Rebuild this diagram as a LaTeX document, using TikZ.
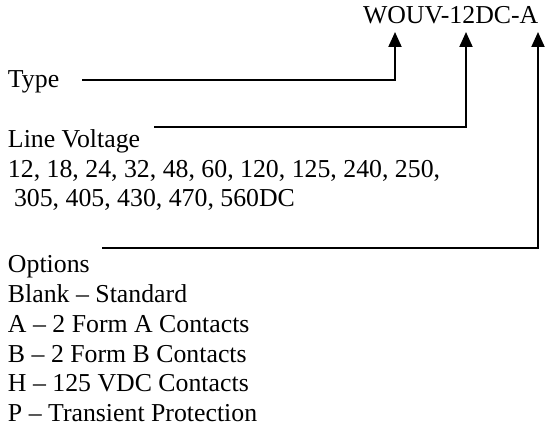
\documentclass[tikz,border=0pt]{standalone}
\usepackage{fontspec}
\setmainfont{Liberation Serif}
\usetikzlibrary{arrows.meta}
\begin{document}
\begin{tikzpicture}[x=1pt,y=-1pt,
  lbl/.style={anchor=base west,inner sep=0pt,outer sep=0pt,font=\fontsize{25.8}{29.8}\selectfont},
  lead/.style={line width=2pt,-{Triangle[length=15pt,width=13pt]}}]
\useasboundingbox (0,0) rectangle (546,428);
\node[lbl] (code) at (363,24) {WOUV-12DC-A};
\node[lbl] (type) at (8,87) {Type};
\node[lbl] (lv) at (8,147) {Line Voltage};
\node[lbl] (lv1) at (8,177) {12, 18, 24, 32, 48, 60, 120, 125, 240, 250,};
\node[lbl] (lv2) at (14,206) {305, 405, 430, 470, 560DC};
\node[lbl] (opt) at (8,272) {Options};
\node[lbl] (o1) at (8,302) {Blank -- Standard};
\node[lbl] (o2) at (8,332) {A -- 2 Form A Contacts};
\node[lbl] (o3) at (8,362) {B -- 2 Form B Contacts};
\node[lbl] (o4) at (8,391) {H -- 125 VDC Contacts};
\node[lbl] (o5) at (8,421) {P -- Transient Protection};
\coordinate (s1) at (82,80);
\coordinate (s2) at (154,127);
\coordinate (s3) at (102,248);
\coordinate (t1) at (395,32);
\coordinate (t2) at (466,32);
\coordinate (t3) at (538,32);
\draw[lead] (s1) -| (t1);
\draw[lead] (s2) -| (t2);
\draw[lead] (s3) -| (t3);
\end{tikzpicture}
\end{document}
